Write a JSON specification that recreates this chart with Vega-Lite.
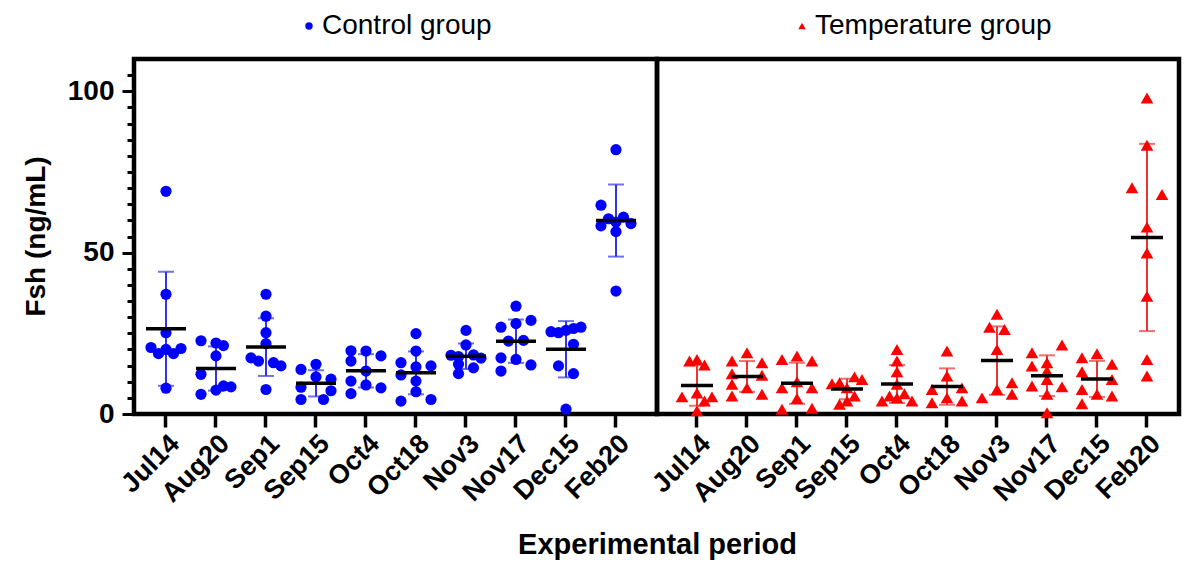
{
  "$schema": "https://vega.github.io/schema/vega-lite/v6.json",
  "padding": {"left": 19, "top": 12, "right": 5, "bottom": 5},
  "bounds": "flush",
  "spacing": 0,
  "config": {
    "font": "Liberation Sans",
    "view": {"stroke": "black", "strokeWidth": 4.5},
    "axis": {"domain": false, "grid": false, "tickColor": "black", "labelColor": "black", "titleColor": "black", "labelFontWeight": "bold", "titleFontWeight": "bold"}
  },
  "datasets": {
    "fsh": [
      {"g": "Control group", "d": "Jul14", "v": 69.0, "c": 0},
      {"g": "Control group", "d": "Jul14", "v": 37.1, "c": 0},
      {"g": "Control group", "d": "Jul14", "v": 25.2, "c": 0},
      {"g": "Control group", "d": "Jul14", "v": 20.6, "c": -2},
      {"g": "Control group", "d": "Jul14", "v": 20.0, "c": 0},
      {"g": "Control group", "d": "Jul14", "v": 20.3, "c": 2},
      {"g": "Control group", "d": "Jul14", "v": 18.7, "c": -1},
      {"g": "Control group", "d": "Jul14", "v": 18.7, "c": 1},
      {"g": "Control group", "d": "Jul14", "v": 8.0, "c": 0},
      {"g": "Control group", "d": "Aug20", "v": 22.7, "c": -2},
      {"g": "Control group", "d": "Aug20", "v": 22.0, "c": 0},
      {"g": "Control group", "d": "Aug20", "v": 21.2, "c": 1},
      {"g": "Control group", "d": "Aug20", "v": 18.0, "c": 0},
      {"g": "Control group", "d": "Aug20", "v": 12.3, "c": -2},
      {"g": "Control group", "d": "Aug20", "v": 8.7, "c": 1},
      {"g": "Control group", "d": "Aug20", "v": 8.4, "c": 2},
      {"g": "Control group", "d": "Aug20", "v": 7.4, "c": 0},
      {"g": "Control group", "d": "Aug20", "v": 6.1, "c": -2},
      {"g": "Control group", "d": "Sep1", "v": 37.1, "c": 0},
      {"g": "Control group", "d": "Sep1", "v": 30.3, "c": 0},
      {"g": "Control group", "d": "Sep1", "v": 25.2, "c": 0},
      {"g": "Control group", "d": "Sep1", "v": 21.8, "c": 0},
      {"g": "Control group", "d": "Sep1", "v": 17.4, "c": -2},
      {"g": "Control group", "d": "Sep1", "v": 16.4, "c": -1},
      {"g": "Control group", "d": "Sep1", "v": 15.9, "c": 1},
      {"g": "Control group", "d": "Sep1", "v": 14.9, "c": 2},
      {"g": "Control group", "d": "Sep1", "v": 7.6, "c": 0},
      {"g": "Control group", "d": "Sep15", "v": 15.4, "c": 0},
      {"g": "Control group", "d": "Sep15", "v": 13.8, "c": -2},
      {"g": "Control group", "d": "Sep15", "v": 11.5, "c": 0},
      {"g": "Control group", "d": "Sep15", "v": 10.8, "c": 2},
      {"g": "Control group", "d": "Sep15", "v": 8.3, "c": -2},
      {"g": "Control group", "d": "Sep15", "v": 7.2, "c": 2},
      {"g": "Control group", "d": "Sep15", "v": 4.5, "c": -2},
      {"g": "Control group", "d": "Sep15", "v": 4.5, "c": 1},
      {"g": "Control group", "d": "Oct4", "v": 19.6, "c": -2},
      {"g": "Control group", "d": "Oct4", "v": 19.5, "c": 0},
      {"g": "Control group", "d": "Oct4", "v": 18.0, "c": 2},
      {"g": "Control group", "d": "Oct4", "v": 16.4, "c": -2},
      {"g": "Control group", "d": "Oct4", "v": 13.3, "c": 0},
      {"g": "Control group", "d": "Oct4", "v": 10.2, "c": -2},
      {"g": "Control group", "d": "Oct4", "v": 9.0, "c": 0},
      {"g": "Control group", "d": "Oct4", "v": 8.1, "c": 2},
      {"g": "Control group", "d": "Oct4", "v": 6.3, "c": -2},
      {"g": "Control group", "d": "Oct18", "v": 24.9, "c": 0},
      {"g": "Control group", "d": "Oct18", "v": 19.5, "c": 0},
      {"g": "Control group", "d": "Oct18", "v": 15.9, "c": -2},
      {"g": "Control group", "d": "Oct18", "v": 14.9, "c": 2},
      {"g": "Control group", "d": "Oct18", "v": 14.6, "c": 0},
      {"g": "Control group", "d": "Oct18", "v": 12.1, "c": -2},
      {"g": "Control group", "d": "Oct18", "v": 10.2, "c": 0},
      {"g": "Control group", "d": "Oct18", "v": 6.9, "c": 0},
      {"g": "Control group", "d": "Oct18", "v": 4.0, "c": -2},
      {"g": "Control group", "d": "Oct18", "v": 4.5, "c": 2},
      {"g": "Control group", "d": "Nov3", "v": 25.9, "c": 0},
      {"g": "Control group", "d": "Nov3", "v": 21.4, "c": 0},
      {"g": "Control group", "d": "Nov3", "v": 18.2, "c": -2},
      {"g": "Control group", "d": "Nov3", "v": 17.8, "c": -1},
      {"g": "Control group", "d": "Nov3", "v": 18.3, "c": 1},
      {"g": "Control group", "d": "Nov3", "v": 17.3, "c": 2},
      {"g": "Control group", "d": "Nov3", "v": 15.4, "c": -1},
      {"g": "Control group", "d": "Nov3", "v": 14.3, "c": 1},
      {"g": "Control group", "d": "Nov3", "v": 12.5, "c": -1},
      {"g": "Control group", "d": "Nov17", "v": 33.4, "c": 0},
      {"g": "Control group", "d": "Nov17", "v": 29.0, "c": 2},
      {"g": "Control group", "d": "Nov17", "v": 28.0, "c": 0},
      {"g": "Control group", "d": "Nov17", "v": 26.9, "c": -2},
      {"g": "Control group", "d": "Nov17", "v": 22.8, "c": 1},
      {"g": "Control group", "d": "Nov17", "v": 22.6, "c": -1},
      {"g": "Control group", "d": "Nov17", "v": 17.4, "c": -2},
      {"g": "Control group", "d": "Nov17", "v": 16.9, "c": 0},
      {"g": "Control group", "d": "Nov17", "v": 15.2, "c": 2},
      {"g": "Control group", "d": "Nov17", "v": 13.3, "c": -2},
      {"g": "Control group", "d": "Dec15", "v": 26.9, "c": 2},
      {"g": "Control group", "d": "Dec15", "v": 26.5, "c": 1},
      {"g": "Control group", "d": "Dec15", "v": 25.9, "c": 0},
      {"g": "Control group", "d": "Dec15", "v": 25.5, "c": -2},
      {"g": "Control group", "d": "Dec15", "v": 25.2, "c": -1},
      {"g": "Control group", "d": "Dec15", "v": 21.6, "c": 1},
      {"g": "Control group", "d": "Dec15", "v": 14.9, "c": -1},
      {"g": "Control group", "d": "Dec15", "v": 12.5, "c": 1},
      {"g": "Control group", "d": "Dec15", "v": 1.5, "c": 0},
      {"g": "Control group", "d": "Feb20", "v": 81.9, "c": 0},
      {"g": "Control group", "d": "Feb20", "v": 64.7, "c": -2},
      {"g": "Control group", "d": "Feb20", "v": 61.0, "c": 1},
      {"g": "Control group", "d": "Feb20", "v": 60.5, "c": -1},
      {"g": "Control group", "d": "Feb20", "v": 59.5, "c": 0},
      {"g": "Control group", "d": "Feb20", "v": 59.0, "c": 2},
      {"g": "Control group", "d": "Feb20", "v": 58.3, "c": -2},
      {"g": "Control group", "d": "Feb20", "v": 56.5, "c": 0},
      {"g": "Control group", "d": "Feb20", "v": 38.1, "c": 0},
      {"g": "Temperature group", "d": "Jul14", "v": 16.4, "c": -1},
      {"g": "Temperature group", "d": "Jul14", "v": 16.9, "c": 0},
      {"g": "Temperature group", "d": "Jul14", "v": 15.2, "c": 1},
      {"g": "Temperature group", "d": "Jul14", "v": 5.3, "c": -2},
      {"g": "Temperature group", "d": "Jul14", "v": 6.5, "c": 0},
      {"g": "Temperature group", "d": "Jul14", "v": 4.0, "c": 1},
      {"g": "Temperature group", "d": "Jul14", "v": 5.3, "c": 2},
      {"g": "Temperature group", "d": "Jul14", "v": 1.0, "c": 0},
      {"g": "Temperature group", "d": "Aug20", "v": 19.0, "c": 0},
      {"g": "Temperature group", "d": "Aug20", "v": 16.4, "c": -2},
      {"g": "Temperature group", "d": "Aug20", "v": 15.9, "c": 2},
      {"g": "Temperature group", "d": "Aug20", "v": 12.5, "c": -2},
      {"g": "Temperature group", "d": "Aug20", "v": 12.0, "c": 2},
      {"g": "Temperature group", "d": "Aug20", "v": 9.2, "c": -2},
      {"g": "Temperature group", "d": "Aug20", "v": 8.1, "c": 0},
      {"g": "Temperature group", "d": "Aug20", "v": 5.6, "c": -2},
      {"g": "Temperature group", "d": "Aug20", "v": 6.1, "c": 2},
      {"g": "Temperature group", "d": "Sep1", "v": 16.9, "c": -2},
      {"g": "Temperature group", "d": "Sep1", "v": 18.0, "c": 0},
      {"g": "Temperature group", "d": "Sep1", "v": 16.4, "c": 2},
      {"g": "Temperature group", "d": "Sep1", "v": 10.0, "c": 0},
      {"g": "Temperature group", "d": "Sep1", "v": 8.1, "c": -2},
      {"g": "Temperature group", "d": "Sep1", "v": 8.1, "c": 2},
      {"g": "Temperature group", "d": "Sep1", "v": 4.8, "c": 0},
      {"g": "Temperature group", "d": "Sep1", "v": 1.5, "c": -2},
      {"g": "Temperature group", "d": "Sep1", "v": 1.8, "c": 2},
      {"g": "Temperature group", "d": "Sep15", "v": 11.5, "c": 1},
      {"g": "Temperature group", "d": "Sep15", "v": 10.7, "c": 2},
      {"g": "Temperature group", "d": "Sep15", "v": 9.7, "c": -1},
      {"g": "Temperature group", "d": "Sep15", "v": 9.4, "c": -2},
      {"g": "Temperature group", "d": "Sep15", "v": 8.1, "c": 0},
      {"g": "Temperature group", "d": "Sep15", "v": 5.6, "c": 1},
      {"g": "Temperature group", "d": "Sep15", "v": 4.0, "c": 0},
      {"g": "Temperature group", "d": "Sep15", "v": 3.0, "c": -1},
      {"g": "Temperature group", "d": "Oct4", "v": 20.0, "c": 0},
      {"g": "Temperature group", "d": "Oct4", "v": 16.4, "c": 0},
      {"g": "Temperature group", "d": "Oct4", "v": 13.1, "c": 0},
      {"g": "Temperature group", "d": "Oct4", "v": 9.2, "c": 0},
      {"g": "Temperature group", "d": "Oct4", "v": 5.6, "c": -1},
      {"g": "Temperature group", "d": "Oct4", "v": 6.3, "c": 1},
      {"g": "Temperature group", "d": "Oct4", "v": 4.0, "c": 2},
      {"g": "Temperature group", "d": "Oct4", "v": 4.0, "c": -2},
      {"g": "Temperature group", "d": "Oct4", "v": 5.0, "c": 0},
      {"g": "Temperature group", "d": "Oct18", "v": 19.5, "c": 0},
      {"g": "Temperature group", "d": "Oct18", "v": 11.8, "c": 0},
      {"g": "Temperature group", "d": "Oct18", "v": 7.6, "c": -2},
      {"g": "Temperature group", "d": "Oct18", "v": 8.1, "c": 2},
      {"g": "Temperature group", "d": "Oct18", "v": 5.0, "c": 0},
      {"g": "Temperature group", "d": "Oct18", "v": 3.5, "c": -2},
      {"g": "Temperature group", "d": "Oct18", "v": 4.0, "c": 2},
      {"g": "Temperature group", "d": "Nov3", "v": 30.9, "c": 0},
      {"g": "Temperature group", "d": "Nov3", "v": 26.9, "c": -1},
      {"g": "Temperature group", "d": "Nov3", "v": 26.2, "c": 1},
      {"g": "Temperature group", "d": "Nov3", "v": 20.0, "c": 0},
      {"g": "Temperature group", "d": "Nov3", "v": 9.7, "c": 2},
      {"g": "Temperature group", "d": "Nov3", "v": 7.6, "c": 0},
      {"g": "Temperature group", "d": "Nov3", "v": 5.0, "c": -2},
      {"g": "Temperature group", "d": "Nov3", "v": 6.1, "c": 2},
      {"g": "Temperature group", "d": "Nov17", "v": 21.4, "c": 2},
      {"g": "Temperature group", "d": "Nov17", "v": 19.0, "c": -2},
      {"g": "Temperature group", "d": "Nov17", "v": 15.9, "c": 0},
      {"g": "Temperature group", "d": "Nov17", "v": 14.9, "c": -2},
      {"g": "Temperature group", "d": "Nov17", "v": 13.3, "c": 0},
      {"g": "Temperature group", "d": "Nov17", "v": 10.7, "c": 0},
      {"g": "Temperature group", "d": "Nov17", "v": 8.7, "c": -2},
      {"g": "Temperature group", "d": "Nov17", "v": 8.4, "c": 2},
      {"g": "Temperature group", "d": "Nov17", "v": 6.1, "c": 0},
      {"g": "Temperature group", "d": "Nov17", "v": 0.4, "c": 0},
      {"g": "Temperature group", "d": "Dec15", "v": 17.4, "c": -2},
      {"g": "Temperature group", "d": "Dec15", "v": 18.7, "c": 0},
      {"g": "Temperature group", "d": "Dec15", "v": 15.4, "c": 2},
      {"g": "Temperature group", "d": "Dec15", "v": 13.1, "c": -2},
      {"g": "Temperature group", "d": "Dec15", "v": 10.7, "c": 2},
      {"g": "Temperature group", "d": "Dec15", "v": 7.6, "c": -2},
      {"g": "Temperature group", "d": "Dec15", "v": 6.1, "c": 0},
      {"g": "Temperature group", "d": "Dec15", "v": 5.6, "c": 2},
      {"g": "Temperature group", "d": "Dec15", "v": 3.2, "c": -2},
      {"g": "Temperature group", "d": "Feb20", "v": 97.9, "c": 0},
      {"g": "Temperature group", "d": "Feb20", "v": 83.3, "c": 0},
      {"g": "Temperature group", "d": "Feb20", "v": 70.1, "c": -2},
      {"g": "Temperature group", "d": "Feb20", "v": 68.0, "c": 2},
      {"g": "Temperature group", "d": "Feb20", "v": 57.9, "c": 0},
      {"g": "Temperature group", "d": "Feb20", "v": 49.9, "c": 0},
      {"g": "Temperature group", "d": "Feb20", "v": 36.5, "c": 0},
      {"g": "Temperature group", "d": "Feb20", "v": 16.9, "c": 0},
      {"g": "Temperature group", "d": "Feb20", "v": 11.8, "c": 0}
    ]
  },
  "resolve": {"scale": {"x": "independent", "y": "shared", "color": "shared", "shape": "shared", "xOffset": "independent"}},
  "hconcat": [
    {
      "width": 523,
      "height": 355,
      "data": {"name": "fsh"},
      "transform": [{"filter": "datum.g === 'Control group'"}],
      "encoding": {
        "x": {
          "field": "d", "type": "nominal",
          "scale": {"domain": ["Jul14", "Aug20", "Sep1", "Sep15", "Oct4", "Oct18", "Nov3", "Nov17", "Dec15", "Feb20"], "paddingInner": 0.4, "paddingOuter": 0.43, "align": 0.395},
          "axis": {"title": "Experimental period", "labelAngle": -45, "labelAlign": "right", "labelBaseline": "top", "labelFontSize": 27, "labelPadding": 3, "tickSize": 13, "tickWidth": 3.5, "titleFontSize": 29, "titleX": 523, "titleY": 139, "titleAlign": "center", "titleBaseline": "alphabetic", "titleAngle": 0}
        },
        "y": {
          "field": "v", "type": "quantitative",
          "scale": {"domain": [0, 110], "nice": false},
          "axis": {"title": "Fsh (ng/mL)", "values": [0, 5, 10, 15, 20, 25, 30, 35, 40, 45, 50, 55, 60, 65, 70, 75, 80, 85, 90, 95, 100, 105], "labelExpr": "datum.value % 50 === 0 ? datum.label : ''", "tickSize": {"condition": {"test": "datum.value % 50 === 0", "value": 12}, "value": 7}, "tickWidth": 3, "labelFontSize": 28, "labelPadding": 8, "titleFontSize": 28, "titleX": -90, "titleY": 177, "titleAlign": "center", "titleBaseline": "alphabetic", "titleAngle": 270}
        }
      },
      "layer": [
        {"mark": {"type": "errorbar", "extent": "stdev", "ticks": true, "size": 16, "thickness": 2, "color": "#3333ee"}},
        {
          "mark": {"type": "point", "filled": true, "size": 125, "opacity": 1},
          "encoding": {
            "xOffset": {"field": "c", "type": "ordinal", "scale": {"domain": [-2, -1, 0, 1, 2], "paddingInner": 0, "paddingOuter": 0}},
            "color": {"field": "g", "type": "nominal", "scale": {"domain": ["Control group", "Temperature group"], "range": ["#0000ff", "#ff0000"]}, "legend": {"title": null, "orient": "none", "legendX": 161, "legendY": -47, "direction": "horizontal", "labelFontSize": 28, "labelColor": "black", "labelLimit": 600, "symbolSize": 55, "columnPadding": 296, "labelOffset": -1}},
            "shape": {"field": "g", "type": "nominal", "scale": {"domain": ["Control group", "Temperature group"], "range": ["circle", "triangle-up"]}, "legend": {"title": null, "orient": "none", "legendX": 161, "legendY": -47, "direction": "horizontal", "labelFontSize": 28, "labelColor": "black", "labelLimit": 600, "symbolSize": 55, "columnPadding": 296, "labelOffset": -1}}
          }
        },
        {
          "mark": {"type": "tick", "color": "black", "size": 40, "thickness": 3.5},
          "encoding": {"y": {"aggregate": "mean", "field": "v", "type": "quantitative", "scale": {"domain": [0, 110], "nice": false}, "axis": {"title": "Fsh (ng/mL)", "values": [0, 5, 10, 15, 20, 25, 30, 35, 40, 45, 50, 55, 60, 65, 70, 75, 80, 85, 90, 95, 100, 105], "labelExpr": "datum.value % 50 === 0 ? datum.label : ''", "tickSize": {"condition": {"test": "datum.value % 50 === 0", "value": 12}, "value": 7}, "tickWidth": 3, "labelFontSize": 28, "labelPadding": 8, "titleFontSize": 28, "titleX": -90, "titleY": 177, "titleAlign": "center", "titleBaseline": "alphabetic", "titleAngle": 270}}}
        }
      ]
    },
    {
      "width": 522,
      "height": 355,
      "data": {"name": "fsh"},
      "transform": [{"filter": "datum.g === 'Temperature group'"}],
      "encoding": {
        "x": {
          "field": "d", "type": "nominal",
          "scale": {"domain": ["Jul14", "Aug20", "Sep1", "Sep15", "Oct4", "Oct18", "Nov3", "Nov17", "Dec15", "Feb20"], "paddingInner": 0.4, "paddingOuter": 0.42, "align": 0.595},
          "axis": {"title": null, "labelAngle": -45, "labelAlign": "right", "labelBaseline": "top", "labelFontSize": 27, "labelPadding": 3, "tickSize": 13, "tickWidth": 3.5}
        },
        "y": {"field": "v", "type": "quantitative", "scale": {"domain": [0, 110], "nice": false}, "axis": null}
      },
      "layer": [
        {"mark": {"type": "errorbar", "extent": "stdev", "ticks": true, "size": 16, "thickness": 2, "color": "#ee3333"}},
        {
          "mark": {"type": "point", "filled": true, "size": 160, "opacity": 1},
          "encoding": {
            "xOffset": {"field": "c", "type": "ordinal", "scale": {"domain": [-2, -1, 0, 1, 2], "paddingInner": 0, "paddingOuter": 0}},
            "color": {"field": "g", "type": "nominal", "scale": {"domain": ["Control group", "Temperature group"], "range": ["#0000ff", "#ff0000"]}, "legend": {"title": null, "orient": "none", "legendX": 161, "legendY": -47, "direction": "horizontal", "labelFontSize": 28, "labelColor": "black", "labelLimit": 600, "symbolSize": 55, "columnPadding": 296, "labelOffset": -1}},
            "shape": {"field": "g", "type": "nominal", "scale": {"domain": ["Control group", "Temperature group"], "range": ["circle", "triangle-up"]}, "legend": {"title": null, "orient": "none", "legendX": 161, "legendY": -47, "direction": "horizontal", "labelFontSize": 28, "labelColor": "black", "labelLimit": 600, "symbolSize": 55, "columnPadding": 296, "labelOffset": -1}}
          }
        },
        {
          "mark": {"type": "tick", "color": "black", "size": 32, "thickness": 3.5},
          "encoding": {"y": {"aggregate": "mean", "field": "v", "type": "quantitative", "scale": {"domain": [0, 110], "nice": false}, "axis": null}}
        }
      ]
    }
  ]
}
